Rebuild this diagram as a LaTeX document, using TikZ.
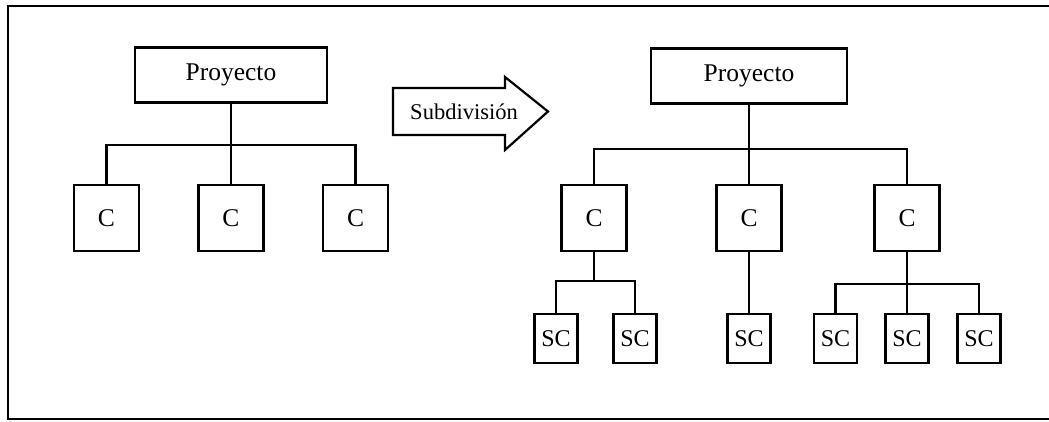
\documentclass[tikz,border=0pt]{standalone}
\usepackage{fontspec}
\setmainfont{Liberation Serif}
\begin{document}
\begin{tikzpicture}[x=1pt,y=-1pt,
  lw/.style={line width=2.2pt},
  pbox/.style={draw,lw,rectangle,minimum width=192pt,minimum height=55pt,inner sep=0pt,font=\fontsize{25.5}{28}\selectfont},
  cbox/.style={draw,lw,rectangle,minimum width=65pt,minimum height=66pt,inner sep=0pt,font=\fontsize{25.5}{28}\selectfont},
  scbox/.style={draw,lw,rectangle,minimum width=43pt,minimum height=49pt,inner sep=0pt,font=\fontsize{24}{26}\selectfont},
  conn/.style={lw},
]
\useasboundingbox (0,0) rectangle (1049,421);
% frame
\draw[line width=2.4pt] (1049,6) -- (8,6) -- (8,419) -- (1049,419);

% left tree
\node[pbox] (p1) at (231,75) {Proyecto};
\node[cbox] (c1) at (106.5,218) {C};
\node[cbox] (c2) at (231,218) {C};
\node[cbox] (c3) at (355.5,218) {C};
\coordinate (b1) at (231,145);
\draw[conn] (p1.south) -- (b1);
\draw[conn] (c1.north) |- (b1);
\draw[conn] (c2.north) -- (b1);
\draw[conn] (c3.north) |- (b1);

% arrow
\draw[lw,line join=miter] (393,88) -- (505,88) -- (505,77) -- (548,111.5) -- (505,150) -- (505,135) -- (393,135) -- cycle;
\node[font=\fontsize{22.5}{25}\selectfont] (sub) at (464,112) {Subdivisión};

% right tree
\node[pbox,minimum width=196pt] (p2) at (749,76) {Proyecto};
\node[cbox] (d1) at (594,218) {C};
\node[cbox] (d2) at (749,218) {C};
\node[cbox] (d3) at (907,218) {C};
\coordinate (b2) at (749,149);
\draw[conn] (p2.south) -- (b2);
\draw[conn] (d1.north) |- (b2);
\draw[conn] (d2.north) -- (b2);
\draw[conn] (d3.north) |- (b2);

\node[scbox] (s1) at (556,338.5) {SC};
\node[scbox] (s2) at (635,338.5) {SC};
\node[scbox] (s3) at (749,338.5) {SC};
\node[scbox] (s4) at (835.5,338.5) {SC};
\node[scbox] (s5) at (907,338.5) {SC};
\node[scbox] (s6) at (979,338.5) {SC};

\coordinate (b3) at (594,281);
\draw[conn] (d1.south) -- (b3);
\draw[conn] (s1.north) |- (b3);
\draw[conn] (s2.north) |- (b3);

\draw[conn] (d2.south) -- (s3.north);

\coordinate (b4) at (907,284);
\draw[conn] (d3.south) -- (b4);
\draw[conn] (s4.north) |- (b4);
\draw[conn] (s5.north) -- (b4);
\draw[conn] (s6.north) |- (b4);
\end{tikzpicture}
\end{document}
